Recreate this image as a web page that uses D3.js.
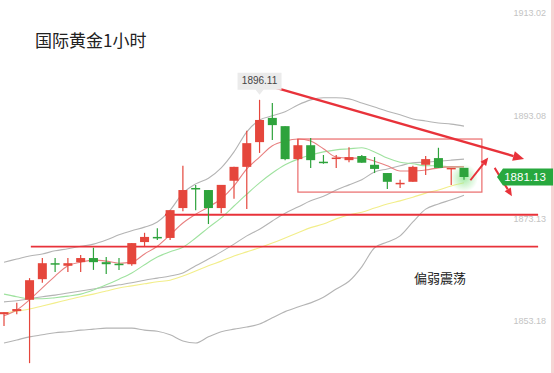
<!DOCTYPE html>
<html>
<head>
<meta charset="utf-8">
<script src="https://cdn.jsdelivr.net/npm/d3@7"></script>
<style>
  html, body { margin: 0; padding: 0; background: #fff; }
  svg { display: block; }
</style>
</head>
<body>
<div id="chart"></div>
<script>
// K线 (1小时), 价格
const open  = [1854.5,1855.1,1857.3,1861.3,1864.4,1863.9,1864.6,1865.4,1864.6,1864.3,1864.2,1868.5,1869.5,1869.3,1875.1,1879.0,1878.6,1875.1,1880.4,1883.1,1887.9,1892.6,1891.0,1884.6,1887.3,1884.1,1884.8,1884.4,1885.2,1883.5,1881.9,1879.9,1880.2,1883.5,1884.8,1882.8,1882.9];
const high  = [1854.9,1856.7,1861.5,1865.4,1865.4,1865.4,1866.0,1867.4,1865.6,1865.4,1868.3,1870.3,1871.2,1874.7,1883.3,1879.6,1878.6,1879.6,1883.1,1890.1,1896.11,1895.5,1891.0,1888.5,1888.7,1885.4,1885.4,1886.9,1885.4,1885.0,1881.9,1880.6,1883.3,1885.2,1886.8,1882.9,1882.9];
const low   = [1852.2,1854.5,1845.0,1860.6,1862.7,1862.7,1862.7,1863.1,1862.3,1863.1,1863.9,1867.7,1868.9,1868.9,1874.5,1874.7,1872.0,1874.1,1876.9,1874.9,1885.8,1888.3,1884.4,1884.4,1882.9,1883.7,1882.9,1884.0,1883.9,1881.9,1878.8,1879.0,1880.2,1881.5,1882.9,1879.6,1880.6];
const close = [1854.9,1855.5,1861.1,1864.4,1864.2,1864.4,1865.4,1864.6,1864.2,1864.2,1868.3,1869.5,1869.3,1874.7,1878.6,1878.8,1875.1,1879.6,1883.1,1887.7,1892.2,1891.2,1884.6,1887.3,1884.4,1884.0,1884.9,1885.0,1883.9,1882.7,1880.2,1880.0,1883.1,1884.6,1882.9,1882.9,1881.13];

// 均线与布林带
const ma5   = [1854.2,1855.3,1857.3,1859.6,1861.9,1863.9,1864.6,1865.0,1864.8,1864.4,1864.6,1866.2,1867.7,1869.9,1872.2,1873.9,1875.3,1876.9,1879.4,1882.7,1885.0,1887.2,1888.1,1888.5,1888.1,1886.6,1885.0,1884.8,1884.8,1884.2,1883.3,1882.3,1882.3,1882.5,1882.9,1883.1,1883.1];
const ma10  = [1858.4,1857.9,1857.5,1857.5,1857.7,1858.0,1858.4,1859.2,1860.2,1861.3,1862.5,1864.1,1865.6,1866.6,1867.5,1869.3,1871.3,1873.2,1875.5,1877.8,1880.0,1881.9,1883.5,1884.6,1885.4,1886.0,1886.4,1886.6,1886.8,1886.0,1884.8,1884.0,1883.7,1883.3,1883.3,1883.1,1883.1];
const ma30  = [1854.7,1855.1,1855.5,1856.1,1856.7,1857.3,1857.9,1858.4,1859.0,1859.6,1860.0,1860.4,1860.8,1861.1,1861.9,1862.9,1863.9,1864.8,1865.8,1866.6,1867.4,1868.3,1869.3,1870.3,1871.3,1872.0,1873.0,1873.8,1874.3,1875.1,1875.9,1876.5,1877.2,1878.0,1878.6,1879.4,1880.0];
const bollUp  = [1864.6,1865.2,1865.8,1866.2,1866.8,1867.2,1867.7,1868.1,1868.9,1869.9,1870.7,1871.4,1872.4,1874.7,1878.0,1879.8,1880.9,1882.9,1886.0,1889.9,1892.2,1893.0,1893.8,1895.1,1896.1,1896.5,1896.5,1896.3,1895.5,1894.7,1893.9,1893.2,1892.4,1892.0,1891.6,1891.4,1891.0];
const bollMid = [1856.9,1857.1,1857.5,1857.9,1858.2,1858.6,1859.0,1859.4,1859.8,1860.2,1860.6,1861.1,1861.5,1861.9,1862.5,1863.9,1865.2,1866.6,1868.1,1869.7,1871.0,1872.6,1874.1,1875.3,1876.5,1877.4,1878.6,1879.6,1880.6,1882.1,1882.7,1883.3,1883.9,1884.0,1884.2,1884.4,1884.6];
const bollLow = [1848.9,1849.5,1850.1,1850.5,1850.9,1851.1,1851.4,1851.6,1851.8,1851.8,1851.8,1851.4,1851.2,1850.5,1849.3,1848.9,1850.1,1851.1,1851.6,1852.0,1852.6,1853.8,1855.0,1855.9,1856.7,1857.8,1859.4,1860.9,1863.7,1867.4,1868.5,1869.7,1872.4,1874.9,1875.9,1876.7,1877.6];

const priceTicks = [1913.02, 1893.08, 1873.13, 1853.18];
const title = "国际黄金1小时";
const note = "偏弱震荡";
const highLabel = "1896.11";
const lastPrice = 1881.13;
const supportLevels = [1873.8, 1867.6];

const width = 554, height = 373;
const red = "#e5463c", green = "#2ea33c", lineRed = "#e8323a";

const svg = d3.select("#chart").append("svg")
  .attr("width", width).attr("height", height)
  .style("font-family", "'Noto Sans CJK SC', 'Noto Sans', sans-serif");

// x: 第几根K线, y: 价格
const x = d3.scaleLinear().domain([0, open.length - 1]).range([4, 464]);
const y = d3.scaleLinear().domain([1853.18, 1913.02]).range([321, 12.7]);

const defs = svg.append("defs");
const glow = defs.append("radialGradient").attr("id", "glow");
glow.append("stop").attr("offset", "0%").attr("stop-color", "#9be89b").attr("stop-opacity", 0.9);
glow.append("stop").attr("offset", "100%").attr("stop-color", "#9be89b").attr("stop-opacity", 0);

// 右侧边框
svg.append("rect").attr("x", 551).attr("y", 0).attr("width", 3).attr("height", height).attr("fill", "#f7d3d3");

// 价格刻度
const axis = svg.append("g")
  .attr("transform", "translate(546,0)")
  .call(d3.axisLeft(y).tickValues(priceTicks).tickSize(0).tickPadding(0).tickFormat(d3.format(".2f")));
axis.select(".domain").remove();
axis.selectAll("text").attr("fill", "#c4c4c4").style("font-size", "9px").style("font-family", "'Liberation Sans', sans-serif");

// 均线
const idx = d3.range(open.length);
const line = arr => d3.line().x(i => x(i)).y(i => y(arr[i])).curve(d3.curveMonotoneX)(idx);
[[bollUp, "#b4b4b4"], [bollLow, "#b4b4b4"], [bollMid, "#b4b4b4"], [ma30, "#f2ee8a"], [ma10, "#9fe29f"], [ma5, "#e88080"]]
  .forEach(([arr, c]) => {
    svg.append("path").attr("d", line(arr)).attr("fill", "none").attr("stroke", c).attr("stroke-width", 1.1);
  });

// 支撑线
svg.append("line").attr("x1", x(12.6)).attr("x2", x(41.8)).attr("y1", y(supportLevels[0])).attr("y2", y(supportLevels[0]))
  .attr("stroke", lineRed).attr("stroke-width", 1.8);
svg.append("line").attr("x1", x(2.1)).attr("x2", x(41.8)).attr("y1", y(supportLevels[1])).attr("y2", y(supportLevels[1]))
  .attr("stroke", lineRed).attr("stroke-width", 1.8);

// 震荡区间框
svg.append("rect")
  .attr("x", x(23)).attr("y", y(1888.5))
  .attr("width", x(37.4) - x(23)).attr("height", y(1878.2) - y(1888.5))
  .attr("fill", "none").attr("stroke", "#ea6a6a").attr("stroke-width", 1.2);

// 最后一根K线的光晕
svg.append("circle").attr("cx", x(36)).attr("cy", y(lastPrice) + 1).attr("r", 14).attr("fill", "url(#glow)");

// K线
const bw = 9;
const candles = svg.append("g").selectAll("g").data(idx).join("g");
candles.append("line")
  .attr("x1", i => x(i)).attr("x2", i => x(i))
  .attr("y1", i => y(high[i])).attr("y2", i => y(low[i]))
  .attr("stroke", i => close[i] >= open[i] ? red : green).attr("stroke-width", 1.2);
candles.append("rect")
  .attr("x", i => x(i) - bw / 2)
  .attr("y", i => y(Math.max(open[i], close[i])))
  .attr("width", bw)
  .attr("height", i => Math.max(1.5, Math.abs(y(open[i]) - y(close[i]))))
  .attr("fill", i => close[i] >= open[i] ? red : green);

// 箭头
function arrow(x1, y1, x2, y2, w, head) {
  const a = Math.atan2(y2 - y1, x2 - x1);
  const bx = x2 - head * Math.cos(a), by = y2 - head * Math.sin(a);
  svg.append("line").attr("x1", x1).attr("y1", y1).attr("x2", bx).attr("y2", by)
    .attr("stroke", lineRed).attr("stroke-width", w);
  const px = Math.sin(a) * head * 0.45, py = -Math.cos(a) * head * 0.45;
  svg.append("path")
    .attr("d", `M${x2},${y2}L${bx + px},${by + py}L${bx - px},${by - py}Z`)
    .attr("fill", lineRed);
}
arrow(x(20.2), y(1899.2), x(40.7), y(1884.6), 2.4, 11);
arrow(x(36.5), y(1880.5), x(37.9), y(1884.9), 2, 8);
arrow(x(38.4), y(1882.9), x(39.75), y(1877.4), 2, 8);

// 最高价标签
const hx = x(20), hy = y(1896.11);
svg.append("path")
  .attr("d", `M${hx - 22},${hy - 27}h44v17h-18l-4,5l-4,-5h-18z`)
  .attr("fill", "#ebebeb");
svg.append("text").attr("x", hx).attr("y", hy - 18).attr("text-anchor", "middle")
  .attr("dominant-baseline", "middle").attr("fill", "#444").style("font-size", "10px")
  .style("font-family", "'Liberation Sans', sans-serif").text(highLabel);

// 最新价标签
const ly = y(lastPrice);
svg.append("path")
  .attr("d", `M497,${ly}L503,${ly - 8.5}H553V${ly + 8.5}H503Z`)
  .attr("fill", "#27a83e");
svg.append("text").attr("x", 525).attr("y", ly + 0.5).attr("text-anchor", "middle")
  .attr("dominant-baseline", "middle").attr("fill", "#fff").style("font-size", "11.5px")
  .style("font-family", "'Liberation Sans', sans-serif").text(lastPrice.toFixed(2));

// 标题与注释
svg.append("text").attr("x", 35).attr("y", 47).attr("fill", "#222").style("font-size", "17px").text(title);
svg.append("text").attr("x", 414).attr("y", 283).attr("fill", "#222").style("font-size", "13px").text(note);
</script>
</body>
</html>
